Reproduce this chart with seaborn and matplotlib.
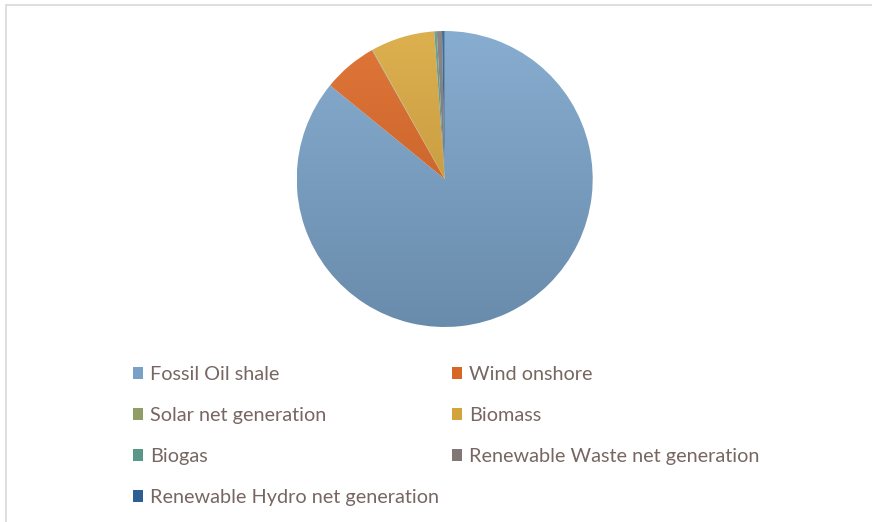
import numpy as np
import matplotlib
matplotlib.use("Agg")
import matplotlib.pyplot as plt
import matplotlib.colors as mcolors
from matplotlib.patches import Patch, Rectangle
import seaborn as sns

# ---- data ----
categories = ["Fossil Oil shale", "Wind onshore", "Solar net generation", "Biomass",
              "Biogas", "Renewable Waste net generation", "Renewable Hydro net generation"]
shares = [85.9, 5.92, 0.08, 6.97, 0.28, 0.56, 0.29]

# ---- style ----
base_colors = ["#7DA6CC", "#DE6A28", "#93A36A", "#DAA940", "#5E9C8C", "#857C7A", "#2D6296"]
text_color = "#776661"

sns.set_theme(style="white")
plt.rcParams["font.family"] = ["Lato", "DejaVu Sans"]

W, H, DPI = 872, 522, 100
fig = plt.figure(figsize=(W / DPI, H / DPI), dpi=DPI)
fig.patch.set_facecolor("white")

cx, cy, r = 444.7, 179.0, 148.0
ax = fig.add_axes([(cx - r) / W, (H - cy - r) / H, 2 * r / W, 2 * r / H])
ax.set_xlim(-1, 1)
ax.set_ylim(-1, 1)
ax.set_aspect("equal")
ax.axis("off")

wedges, _ = ax.pie(shares, startangle=90, counterclock=False, radius=1.0,
                   colors=base_colors, wedgeprops=dict(linewidth=0))

def shade(c, f):
    rgb = np.array(mcolors.to_rgb(c))
    if f >= 1:
        return rgb + (1 - rgb) * (f - 1)
    return rgb * f

for w, c in zip(wedges, base_colors):
    top = shade(c, 1.08)
    bot = shade(c, 0.84)
    t = np.linspace(0, 1, 256)[:, None]
    grad = (bot[None, :] * (1 - t) + top[None, :] * t)[:, None, :]
    im = ax.imshow(grad, extent=(-1.02, 1.02, -1.02, 1.02), origin="lower",
                   aspect="auto", zorder=2, interpolation="bilinear")
    im.set_clip_path(w)
    w.set_facecolor("none")
    w.set_zorder(3)

ax.set_xlim(-1, 1)
ax.set_ylim(-1, 1)

# legend: row-major order in two columns
order = [0, 2, 4, 6, 1, 3, 5]
handles = [Patch(facecolor=shade(base_colors[i], 0.97), edgecolor="none") for i in order]
labels = [categories[i] for i in order]
leg = fig.legend(handles, labels, ncol=2, loc="upper left",
                 bbox_to_anchor=(133 / W, 1 - 366 / H), frameon=False,
                 fontsize=14.3, handlelength=0.5, handleheight=0.5, handletextpad=0.35,
                 labelspacing=1.21, columnspacing=0.65, borderaxespad=0, borderpad=0)
for t in leg.get_texts():
    t.set_color(text_color)

# light frame around the chart area
fig.patches.append(Rectangle((6 / W, -0.1), 2, 1.1 - 5 / H, transform=fig.transFigure,
                             fill=False, edgecolor="#D9D9D9", linewidth=1.2))

fig.savefig("out.png", dpi=DPI, facecolor="white")
